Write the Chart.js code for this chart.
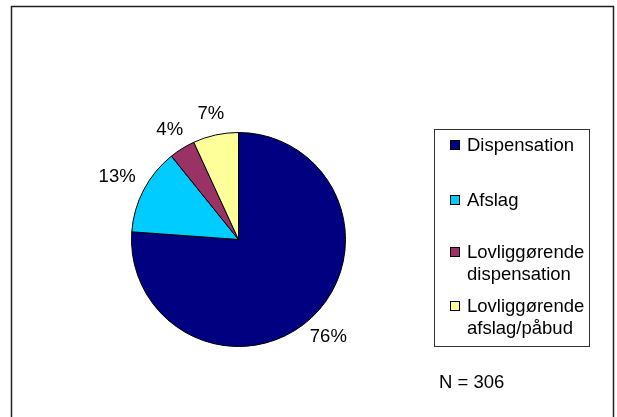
<!DOCTYPE html>
<html>
<head>
<meta charset="utf-8">
<script src="https://cdn.jsdelivr.net/npm/chart.js@4"></script>
<style>
  body { margin: 0; background: #fff; }
  canvas { display: block; }
</style>
</head>
<body>
<canvas id="pie-chart" width="617" height="417"></canvas>
<script>
// Chart data
const labels = ['Dispensation', 'Afslag', 'Lovliggørende dispensation', 'Lovliggørende afslag/påbud'];
const legendLines = [['Dispensation'], ['Afslag'], ['Lovliggørende', 'dispensation'], ['Lovliggørende', 'afslag/påbud']];
const counts = [233, 40, 12, 21];
const sliceColors = ['#000080', '#00CCFF', '#993366', '#FFFF99'];
const totalN = 306;

const FONT = '18.5px "Liberation Sans", Arial, sans-serif';

// white page + outer frame
const framePlugin = {
  id: 'frame',
  beforeDraw(chart) {
    const ctx = chart.ctx;
    ctx.save();
    ctx.fillStyle = '#fff';
    ctx.fillRect(0, 0, chart.width, chart.height);
    ctx.strokeStyle = '#222';
    ctx.lineWidth = 1.5;
    ctx.strokeRect(11.5, 6.5, 602, 430);
    ctx.restore();
  }
};

// percent labels outside each slice (text box kept a small gap from the rim)
const percentLabels = {
  id: 'percentLabels',
  afterDatasetsDraw(chart) {
    const ctx = chart.ctx;
    const meta = chart.getDatasetMeta(0);
    const total = counts.reduce((a, b) => a + b, 0);
    ctx.save();
    ctx.font = FONT;
    ctx.fillStyle = '#000';
    ctx.textAlign = 'center';
    ctx.textBaseline = 'middle';
    meta.data.forEach(function(arc, i) {
      const p = arc.getProps(['x', 'y', 'startAngle', 'endAngle', 'outerRadius'], true);
      const mid = (p.startAngle + p.endAngle) / 2;
      const pct = Math.round(counts[i] / total * 100) + '%';
      const w = ctx.measureText(pct).width, h = 13;
      const c = Math.abs(Math.cos(mid)), s = Math.abs(Math.sin(mid));
      const edge = Math.min(c > 0.01 ? w / 2 / c : 999, s > 0.01 ? h / 2 / s : 999);
      const r = p.outerRadius + 16 + edge;
      ctx.fillText(pct, p.x + Math.cos(mid) * r, p.y + Math.sin(mid) * r + 1);
    });
    ctx.restore();
  }
};

// boxed legend at the right, plus the N note
const boxLegend = {
  id: 'boxLegend',
  afterDraw(chart) {
    const ctx = chart.ctx;
    const rowY = [145, 200, 252, 306];
    ctx.save();
    ctx.strokeStyle = '#333';
    ctx.lineWidth = 1;
    ctx.strokeRect(434.5, 129.5, 155, 217);
    ctx.font = FONT;
    ctx.textAlign = 'left';
    ctx.textBaseline = 'middle';
    legendLines.forEach(function(lines, i) {
      const y = rowY[i];
      ctx.fillStyle = sliceColors[i];
      ctx.fillRect(450.5, y - 4.5, 9, 9);
      ctx.strokeStyle = '#000';
      ctx.strokeRect(450.5, y - 4.5, 9, 9);
      ctx.fillStyle = '#000';
      lines.forEach(function(t, j) {
        ctx.fillText(t, 467, y + j * 22 + 1);
      });
    });
    ctx.fillText('N = ' + totalN, 439, 383);
    ctx.restore();
  }
};

const ctx = document.getElementById('pie-chart').getContext('2d');
const pieChart = new Chart(ctx, {
  type: 'pie',
  data: {
    labels: labels,
    datasets: [{
      data: counts,
      backgroundColor: sliceColors,
      borderColor: '#000',
      borderWidth: 1
    }]
  },
  options: {
    responsive: false,
    devicePixelRatio: 1,
    animation: false,
    layout: { padding: { left: 131, top: 132, right: 271, bottom: 70 } },
    plugins: {
      legend: { display: false },
      tooltip: { enabled: false }
    }
  },
  plugins: [framePlugin, percentLabels, boxLegend]
});
</script>
</body>
</html>
